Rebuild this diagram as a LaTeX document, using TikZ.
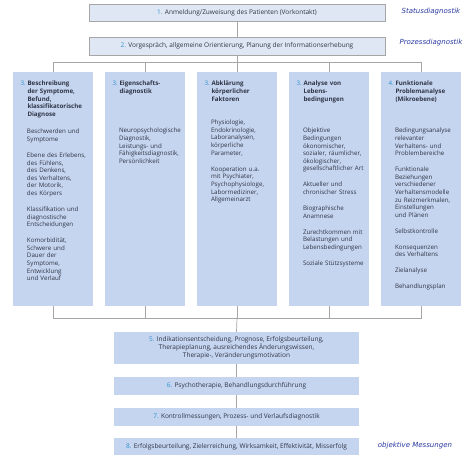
\documentclass[tikz,border=0pt]{standalone}
\usepackage{fontspec}
\setmainfont{Open Sans}
\newfontfamily\handfont{DejaVu Sans}
\definecolor{boxfill}{HTML}{C6D5EF}
\definecolor{topfill}{HTML}{DFE7F4}
\definecolor{edgegray}{HTML}{A6A6A6}
\definecolor{numblue}{HTML}{2F8FD0}
\definecolor{txt}{HTML}{2E3445}
\definecolor{handblue}{HTML}{2B3AA0}
\tikzset{
  topbox/.style={draw=edgegray, line width=0.6pt, fill=topfill, minimum width=296, inner sep=0,
    font=\fontsize{6.5}{7.6}\selectfont, text=txt},
  colbox/.style={fill=boxfill, minimum width=80, minimum height=234, inner sep=0},
  lowbox/.style={fill=boxfill, minimum width=245, inner sep=0, align=center,
    font=\fontsize{6.5}{7.9}\selectfont, text=txt},
  numtxt/.style={anchor=base west, inner sep=0, font=\fontsize{6.2}{7.6}\selectfont, text=numblue},
  titletxt/.style={anchor=base west, inner sep=0, align=left, text width=70,
    font=\fontsize{6.2}{7.7}\selectfont\bfseries, text=txt},
  bodytxt/.style={anchor=base west, inner sep=0, align=left, text width=75,
    font=\fontsize{6.2}{7.6}\selectfont, text=txt},
  conn/.style={draw=edgegray, line width=0.7pt},
  hand/.style={inner sep=0, text=handblue, font=\handfont\itshape\fontsize{7}{8}\selectfont}
}
\newcommand{\nb}[1]{\textcolor{numblue}{#1}}
\begin{document}
\begin{tikzpicture}[x=1pt,y=-1pt]
\useasboundingbox (0,0) rectangle (474,460);
\fill[white] (0,0) rectangle (474,460);

% top boxes
\node[topbox, minimum height=17] (b1) at (237,12.5) {\nb{1.} Anmeldung/Zuweisung des Patienten (Vorkontakt)};
\node[topbox, minimum height=18] (b2) at (237,46) {\nb{2.} Vorgespräch, allgemeine Orientierung, Planung der Informationserhebung};

% column boxes
\node[colbox] (c1) at (53,189) {};
\node[colbox] (c2) at (145,189) {};
\node[colbox] (c3) at (237,189) {};
\node[colbox] (c4) at (329,189) {};
\node[colbox] (c5) at (421,189) {};

% numbers
\node[numtxt] (n1) at ([xshift=7.5,yshift=-14]c1.north west) {3.};
\node[numtxt] (n2) at ([xshift=7.5,yshift=-14]c2.north west) {3.};
\node[numtxt] (n3) at ([xshift=7.5,yshift=-14]c3.north west) {3.};
\node[numtxt] (n4) at ([xshift=7.5,yshift=-14]c4.north west) {3.};
\node[numtxt] (n5) at ([xshift=7.5,yshift=-14]c5.north west) {4.};

% titles
\node[titletxt] (t1) at ([xshift=14.5,yshift=-14]c1.north west) {Beschreibung\\der Symptome,\\Befund,\\klassifikatorische\\Diagnose};
\node[titletxt] (t2) at ([xshift=14.5,yshift=-14]c2.north west) {Eigenschafts-\\diagnostik};
\node[titletxt] (t3) at ([xshift=14.5,yshift=-14]c3.north west) {Abklärung\\körperlicher\\Faktoren};
\node[titletxt] (t4) at ([xshift=14.5,yshift=-14]c4.north west) {Analyse von\\Lebens-\\bedingungen};
\node[titletxt] (t5) at ([xshift=14.5,yshift=-14]c5.north west) {Funktionale\\Problemanalyse\\(Mikroebene)};

% bodies
\node[bodytxt] (d1) at ([xshift=14,yshift=-62]c1.north west) {Beschwerden und\\Symptome\\[8.4pt]Ebene des Erlebens,\\des Fühlens,\\des Denkens,\\des Verhaltens,\\der Motorik,\\des Körpers\\[8.4pt]Klassifikation und\\diagnostische\\Entscheidungen\\[8.4pt]Komorbidität,\\Schwere und\\Dauer der\\Symptome,\\Entwicklung\\und Verlauf};
\node[bodytxt] (d2) at ([xshift=14,yshift=-61]c2.north west) {Neuropsychologische\\Diagnostik,\\Leistungs- und\\Fähigkeitsdiagnostik,\\Persönlichkeit};
\node[bodytxt] (d3) at ([xshift=14,yshift=-53]c3.north west) {Physiologie,\\Endokrinologie,\\Laboranalysen,\\körperliche\\Parameter,\\[8.4pt]Kooperation u.a.\\mit Psychiater,\\Psychophysiologe,\\Labormediziner,\\Allgemeinarzt};
\node[bodytxt] (d4) at ([xshift=14,yshift=-61]c4.north west) {Objektive\\Bedingungen\\ökonomischer,\\sozialer, räumlicher,\\ökologischer,\\gesellschaftlicher Art\\[8.4pt]Aktueller und\\chronischer Stress\\[8.4pt]Biographische\\Anamnese\\[8.4pt]Zurechtkommen mit\\Belastungen und\\Lebensbedingungen\\[8.4pt]Soziale Stützsysteme};
\node[bodytxt] (d5) at ([xshift=14,yshift=-61]c5.north west) {Bedingungsanalyse\\relevanter\\Verhaltens- und\\Problembereiche\\[8.4pt]Funktionale\\Beziehungen\\verschiedener\\Verhaltensmodelle\\zu Reizmerkmalen,\\Einstellungen\\und Plänen\\[8.4pt]Selbstkontrolle\\[8.4pt]Konsequenzen\\des Verhaltens\\[8.4pt]Zielanalyse\\[8.4pt]Behandlungsplan};

% lower boxes
\node[lowbox, minimum height=32] (b5) at (236.5,348) {\nb{5.} Indikationsentscheidung, Prognose, Erfolgsbeurteilung,\\Therapieplanung, ausreichendes Änderungswissen,\\Therapie-, Veränderungsmotivation};
\node[lowbox, minimum height=18] (b6) at (236.5,386) {\nb{6.} Psychotherapie, Behandlungsdurchführung};
\node[lowbox, minimum height=18] (b7) at (236.5,417) {\nb{7.} Kontrollmessungen, Prozess- und Verlaufsdiagnostik};
\node[lowbox, minimum height=17] (b8) at (236.5,446.5) {\nb{8.} Erfolgsbeurteilung, Zielerreichung, Wirksamkeit, Effektivität, Misserfolg};

% connectors
\coordinate (topbar) at (237,62);
\coordinate (botbar) at (237,318);
\draw[conn] (b1) -- (b2);
\draw[conn] (b2) -- (topbar);
\foreach \c in {c1,c2,c3,c4,c5} {
  \draw[conn] (\c.north) |- (topbar);
  \draw[conn] (\c.south) |- (botbar);
}
\draw[conn] (botbar) -- (b5.north);
\draw[conn] (b5) -- (b6);
\draw[conn] (b6) -- (b7);
\draw[conn] (b7) -- (b8);

% handwritten notes
\node[hand] (h1) at (431,12) {Statusdiagnostik};
\node[hand] (h2) at (431,43) {Prozessdiagnostik};
\node[hand] (h3) at (415,446) {objektive Messungen};
\end{tikzpicture}
\end{document}
